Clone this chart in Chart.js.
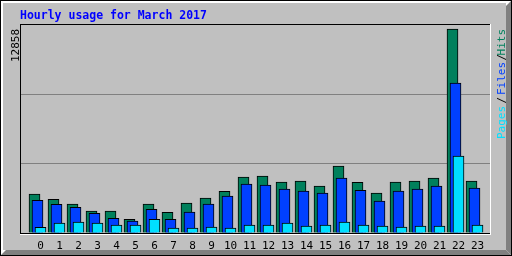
<!DOCTYPE html>
<html>
<head>
<meta charset="utf-8">
<script src="https://cdn.jsdelivr.net/npm/chart.js@4"></script>
<style>
  html, body { margin: 0; padding: 0; background: #c0c0c0; }
  canvas { display: block; }
</style>
</head>
<body>
<canvas id="usage" width="512" height="256"></canvas>
<script>
let hours = [0, 1, 2, 3, 4, 5, 6, 7, 8, 9, 10, 11, 12, 13, 14, 15, 16, 17, 18, 19, 20, 21, 22, 23];
let hits = [2458, 2124, 1828, 1387, 1387, 864, 1828, 1305, 1891, 2206, 2628, 3530,
            3593, 3215, 3278, 2962, 4223, 3196, 2521, 3215, 3278, 3467, 12858, 3278];
let files = [2061, 1809, 1620, 1242, 927, 756, 1494, 864, 1324, 1828, 2332, 3088,
             3025, 2773, 2647, 2521, 3467, 2691, 2017, 2647, 2773, 2962, 9455, 2836];
let pages = [359, 630, 693, 630, 504, 504, 864, 315, 315, 378, 315, 504,
             504, 630, 441, 504, 693, 504, 441, 378, 441, 441, 4853, 504];
let maxLabel = "12858";

let title = "Hourly usage for March 2017";
let green = "#00805c", blue = "#0040ff", cyan = "#00e0ff";

// top of the scale sits a little above the biggest bar, like webalizer
let yMax = 12858 * 208 / 204;

// bars of one hour are shifted by 3px each (19px per hour)
function points(values, shift) {
    return values.map((v, i) => ({ x: hours[i] + shift, y: v }));
}

let frame = {
    id: "frame",
    beforeDraw(chart) {
        let c = chart.ctx;
        c.save();
        c.fillStyle = "#000";
        c.fillRect(0, 0, 512, 256);
        c.fillStyle = "#fff";
        c.fillRect(1, 1, 510, 254);
        c.fillStyle = "#c0c0c0";
        c.fillRect(3, 3, 503, 247);
        c.fillStyle = "#808080";
        c.beginPath();
        c.moveTo(511, 1); c.lineTo(511, 255); c.lineTo(506, 250); c.lineTo(506, 6);
        c.closePath(); c.fill();
        c.beginPath();
        c.moveTo(1, 255); c.lineTo(511, 255); c.lineTo(506, 250); c.lineTo(6, 250);
        c.closePath(); c.fill();
        c.restore();
    },
    afterDraw(chart) {
        let c = chart.ctx;
        let a = chart.chartArea;
        c.save();
        // plot frame
        c.fillStyle = "#000";
        c.fillRect(a.left - 1, a.top - 1, a.right - a.left + 1, 1);
        c.fillRect(a.left - 1, a.top - 1, 1, a.bottom - a.top + 2);
        c.fillRect(a.left - 1, a.bottom, a.right - a.left + 1, 1);
        c.fillStyle = "#fff";
        c.fillRect(a.right, a.top - 1, 1, a.bottom - a.top + 3);
        c.fillRect(a.left - 1, a.bottom + 1, a.right - a.left + 2, 1);

        // title
        c.font = "bold 11.5px 'DejaVu Sans Mono'";
        c.fillStyle = "#0000ff";
        c.textBaseline = "alphabetic";
        c.textAlign = "left";
        c.fillText(title, 20, 19);

        // max value, rotated
        c.font = "11px 'DejaVu Sans Mono'";
        c.save();
        c.translate(19, 29);
        c.rotate(-Math.PI / 2);
        c.fillStyle = "#000";
        c.textAlign = "right";
        c.fillText(maxLabel, 0, 0);
        c.restore();

        // legend on the right, rotated
        let parts = [["Hits", green, 29], ["/", "#000", 54], ["Files", blue, 62], ["/", "#000", 97], ["Pages", cyan, 106]];
        parts.forEach(p => {
            c.save();
            c.translate(505, p[2]);
            c.rotate(-Math.PI / 2);
            c.fillStyle = p[1];
            c.textAlign = "right";
            c.fillText(p[0], 0, 0);
            c.restore();
        });
        c.restore();
    }
};

let ctx = document.getElementById("usage").getContext("2d");
let usageChart = new Chart(ctx, {
    type: "bar",
    data: {
        datasets: [
            { label: "Pages", data: points(pages, 0), backgroundColor: cyan },
            { label: "Files", data: points(files, -3 / 19), backgroundColor: blue },
            { label: "Hits", data: points(hits, -6 / 19), backgroundColor: green }
        ]
    },
    options: {
        responsive: false,
        animation: false,
        devicePixelRatio: 1,
        layout: { padding: { left: 21, top: 25, right: 22, bottom: 0 } },
        datasets: {
            bar: { grouped: false, barThickness: 11, borderWidth: 1, borderColor: "#000" }
        },
        plugins: { legend: { display: false }, tooltip: { enabled: false } },
        scales: {
            x: {
                type: "linear",
                offset: false,
                min: -19.5 / 19,
                max: -19.5 / 19 + 469 / 19,
                grid: { display: false, drawTicks: false },
                border: { display: false },
                afterFit: s => { s.height = 23; },
                afterBuildTicks: s => { s.ticks = hours.map(h => ({ value: h })); },
                ticks: {
                    autoSkip: false,
                    maxRotation: 0,
                    padding: 7,
                    color: "#000",
                    font: { family: "DejaVu Sans Mono", size: 11 }
                }
            },
            y: {
                min: 0,
                max: yMax,
                afterFit: s => { s.width = 0; },
                border: { display: false },
                grid: {
                    drawTicks: false,
                    color: c => (c.index === 1 || c.index === 2) ? "#808080" : "rgba(0,0,0,0)"
                },
                ticks: { display: false, stepSize: yMax / 3 }
            }
        }
    },
    plugins: [frame]
});
</script>
</body>
</html>
